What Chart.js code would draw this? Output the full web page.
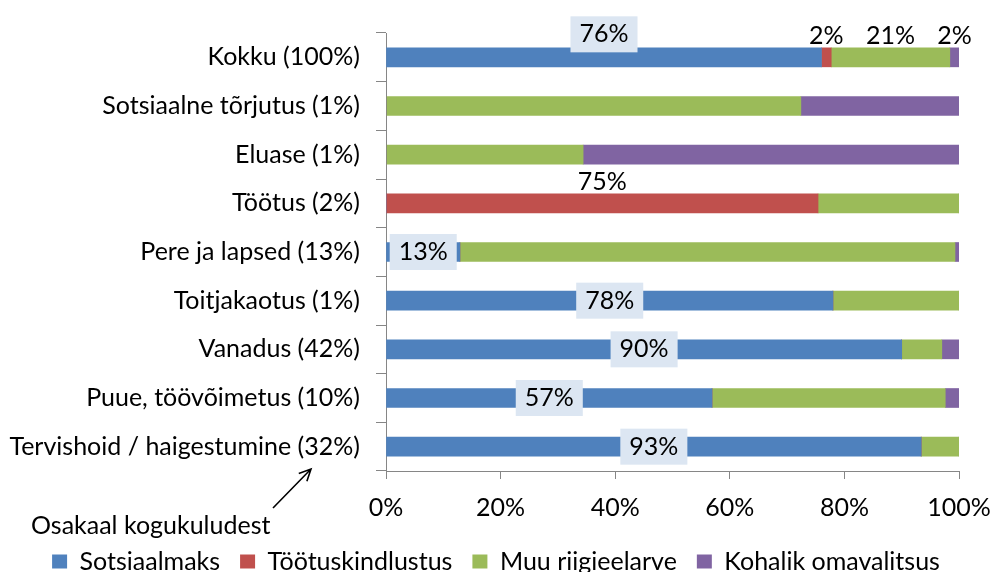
<!DOCTYPE html>
<html>
<head>
<meta charset="utf-8">
<script src="https://cdn.jsdelivr.net/npm/chart.js@4/dist/chart.umd.min.js"></script>
<style>
  html, body { margin: 0; padding: 0; background: #fff; }
  #wrap { width: 992px; height: 572px; }
</style>
</head>
<body>
<div id="wrap"><canvas id="chart" width="992" height="572"></canvas></div>
<script>
// categories (top to bottom) and shares per financing source, %
var categories = [
  "Kokku (100%)",
  "Sotsiaalne tõrjutus (1%)",
  "Eluase (1%)",
  "Töötus (2%)",
  "Pere ja lapsed (13%)",
  "Toitjakaotus (1%)",
  "Vanadus (42%)",
  "Puue, töövõimetus (10%)",
  "Tervishoid / haigestumine (32%)"
];
var sotsiaalmaks     = [76.0, 0,    0,    0,    12.9, 78.0, 90.0, 56.9, 93.4];
var tootuskindlustus = [1.7,  0,    0,    75.4, 0,    0,    0,    0,    0];
var muuRiigieelarve  = [20.7, 72.4, 34.4, 24.6, 86.4, 22.0, 7.0,  40.7, 6.6];
var kohalik          = [1.6,  27.6, 65.6, 0,    0.7,  0,    3.0,  2.4,  0];
var xTicks = [0, 20, 40, 60, 80, 100];

var FONT = "Lato, 'Open Sans', sans-serif";
var FS = 25;
var AXIS = "#868686";

// which value labels are drawn: [dataset, category, boxed?, above?]
var shownLabels = [
  [0, 0, true, true], [0, 4, true, false], [0, 5, true, false], [0, 6, true, false],
  [0, 7, true, false], [0, 8, true, false],
  [1, 0, false, true], [1, 3, false, true],
  [2, 0, false, true],
  [3, 0, false, true]
];

var valueLabels = {
  id: "valueLabels",
  afterDatasetsDraw: function(chart) {
    var ctx = chart.ctx;
    ctx.save();
    ctx.font = FS + "px " + FONT;
    ctx.textAlign = "center";
    ctx.textBaseline = "middle";
    shownLabels.forEach(function(l) {
      var bar = chart.getDatasetMeta(l[0]).data[l[1]];
      var v = chart.data.datasets[l[0]].data[l[1]];
      var txt = Math.round(v) + "%";
      var x = (bar.x + bar.base) / 2;
      var y = bar.y + (l[3] ? (l[2] ? -23 : -21) : 0);
      if (l[2]) {
        var w = ctx.measureText(txt).width + 18;
        ctx.fillStyle = "#DCE6F2";
        ctx.fillRect(x - w / 2, y - 18, w, 36);
      }
      ctx.fillStyle = "#000";
      ctx.fillText(txt, x, y);
    });
    ctx.restore();
  }
};

var shareNote = {
  id: "shareNote",
  afterDraw: function(chart) {
    var ctx = chart.ctx;
    ctx.save();
    ctx.font = FS + "px " + FONT;
    ctx.fillStyle = "#000";
    ctx.textAlign = "left";
    ctx.textBaseline = "middle";
    ctx.fillText("Osakaal kogukuludest", 31, 526);
    var x0 = 273, y0 = 508, x1 = 311, y1 = 469;
    ctx.strokeStyle = "#000";
    ctx.lineWidth = 1.6;
    ctx.beginPath();
    ctx.moveTo(x0, y0);
    ctx.lineTo(x1, y1);
    var a = Math.atan2(y1 - y0, x1 - x0);
    ctx.moveTo(x1 - 13 * Math.cos(a - 0.45), y1 - 13 * Math.sin(a - 0.45));
    ctx.lineTo(x1, y1);
    ctx.lineTo(x1 - 13 * Math.cos(a + 0.45), y1 - 13 * Math.sin(a + 0.45));
    ctx.stroke();
    ctx.restore();
  }
};

new Chart(document.getElementById("chart").getContext("2d"), {
  type: "bar",
  data: {
    labels: categories,
    datasets: [
      { label: "Sotsiaalmaks", data: sotsiaalmaks, backgroundColor: "#4F81BD" },
      { label: "Töötuskindlustus", data: tootuskindlustus, backgroundColor: "#C0504D" },
      { label: "Muu riigieelarve", data: muuRiigieelarve, backgroundColor: "#9BBB59" },
      { label: "Kohalik omavalitsus", data: kohalik, backgroundColor: "#8064A2" }
    ]
  },
  options: {
    indexAxis: "y",
    responsive: false,
    animation: false,
    devicePixelRatio: 1,
    barThickness: 19,
    layout: { padding: { top: 33, right: 0, left: 0, bottom: -12 } },
    plugins: {
      tooltip: { enabled: false },
      legend: {
        position: "bottom",
        labels: {
          font: { family: FONT, size: FS, lineHeight: 1 },
          color: "#000",
          boxWidth: 15,
          boxHeight: 14,
          padding: 20
        }
      }
    },
    scales: {
      x: {
        stacked: true,
        min: 0,
        max: 100,
        afterBuildTicks: function(s) { s.ticks = xTicks.map(function(v) { return { value: v }; }); },
        afterFit: function(s) { s.height = 58; s.paddingRight = 33; s.paddingLeft = 0; },
        ticks: {
          font: { family: FONT, size: FS },
          color: "#000",
          padding: 14,
          maxRotation: 0,
          callback: function(v) { return v + "%"; }
        },
        grid: { drawOnChartArea: false, tickLength: 8, color: AXIS },
        border: { color: AXIS }
      },
      y: {
        stacked: true,
        afterFit: function(s) { s.width = 386; },
        ticks: { font: { family: FONT, size: FS }, color: "#000", padding: 16 },
        grid: { drawOnChartArea: false, tickLength: 10, color: AXIS, offset: true },
        border: { color: AXIS }
      }
    }
  },
  plugins: [valueLabels, shareNote]
});
</script>
</body>
</html>
